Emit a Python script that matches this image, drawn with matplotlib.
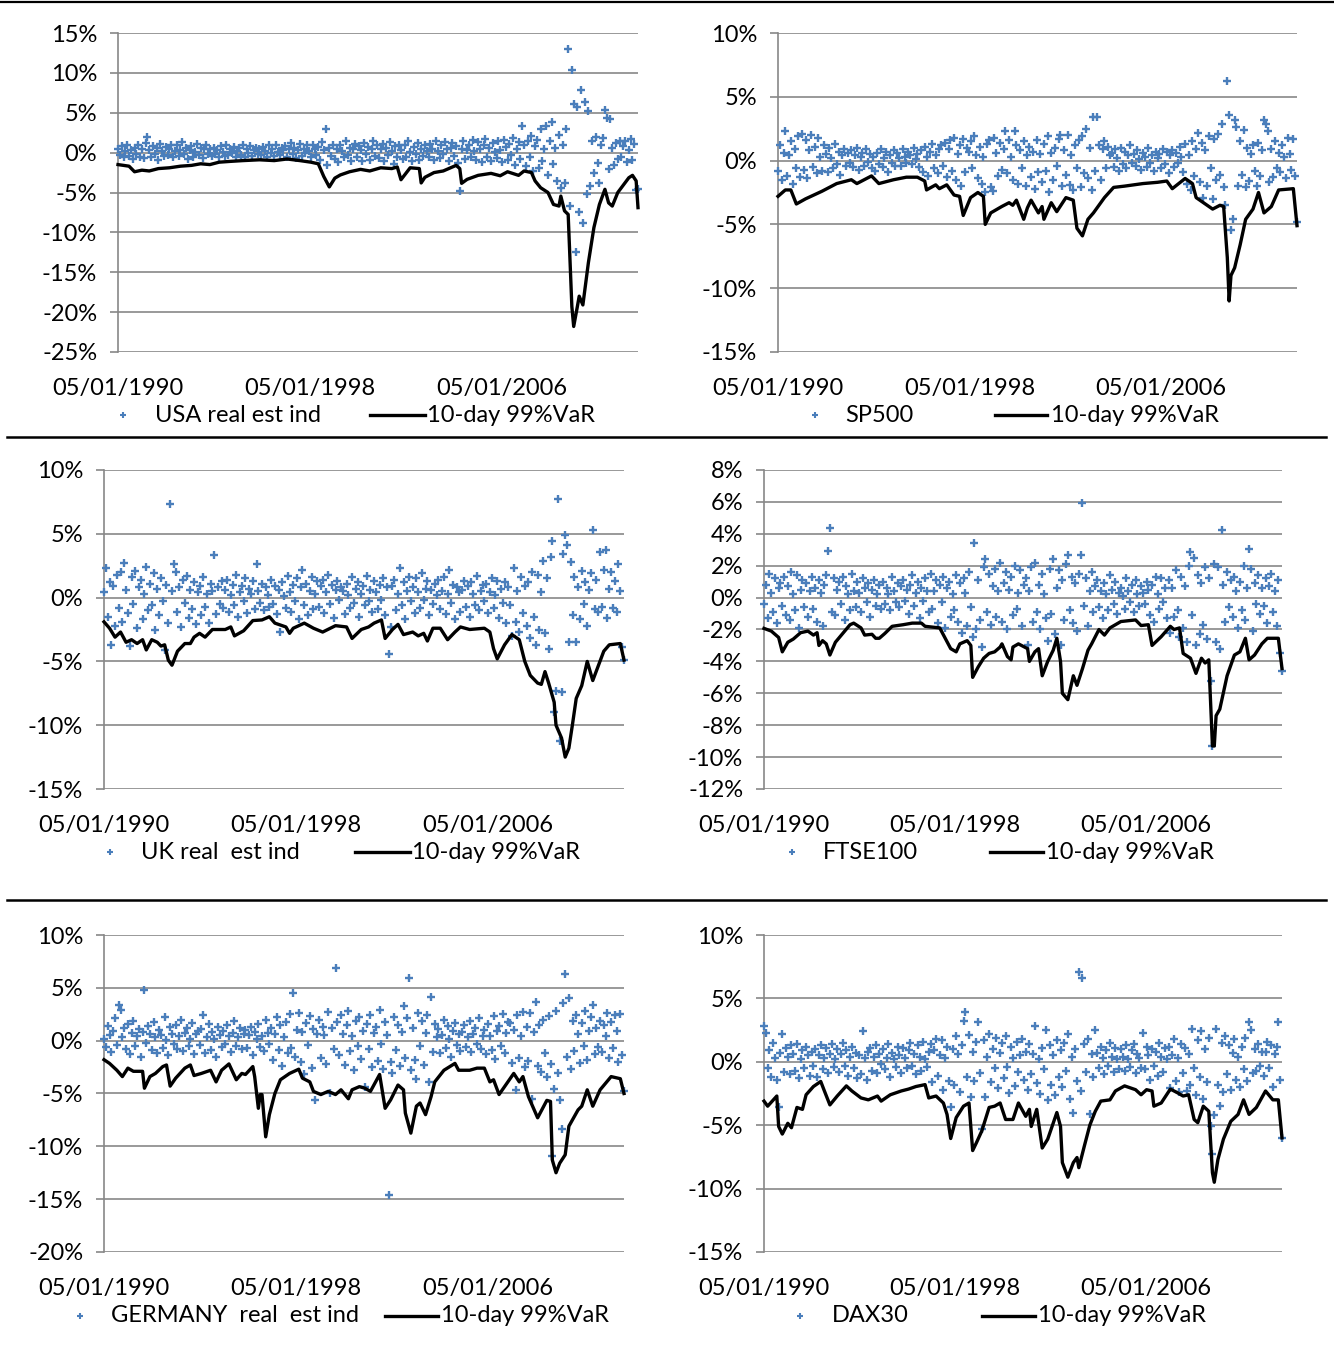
import numpy as np
import pandas as pd
import matplotlib
matplotlib.use('Agg')
from matplotlib import pyplot as plt
from matplotlib.ticker import FuncFormatter

plt.rcParams['font.family'] = ['Lato', 'DejaVu Sans']

# observation dates: one 10-day return every 4 weeks
dates = pd.date_range('1990-01-05', periods=284, freq='28D')
tick_dates = [pd.Timestamp('1990-01-05') + pd.Timedelta(days=2922 * k) for k in range(3)]
tick_labels = [d.strftime('%d/%m/%Y') for d in tick_dates]

var_label = '10-day 99%VaR'

# ---------------------------------------------------------------------------
# 10-day returns (%), one row per year
# ---------------------------------------------------------------------------
usa_ret = [
    0.5, -0.3, 0.8, -0.6, 0.2, 1.0, -0.4, 0.3, -0.8, 0.6, -0.2, 0.9, -0.5,
    0.4, -0.7, 1.2, 2.0, 0.3, -0.5, 0.8, -0.2, 0.6, -0.9, 1.1, 0.2, -0.4,
    0.7, -0.3, 0.5, 1.0, -0.6, 0.2, 0.9, -0.4, 0.3, 1.3, -0.2, 0.6, -0.8,
    0.3, 0.8, -0.5, 0.1, 1.1, -0.3, 0.6, -0.7, 0.4, 0.9, -0.2, 0.5, -0.4,
    0.6, -0.2, 0.3, -0.6, 0.8, 0.1, -0.4, 1.0, -0.3, 0.5, -0.1, 0.7, -0.5,
    0.2, 0.6, -0.3, 0.9, -0.5, 0.4, -0.1, 0.8, -0.4, 0.3, 0.6, -0.2, 0.5,
    -0.3, 0.7, 0.2, -0.6, 1.0, -0.1, 0.4, -0.4, 0.9, 0.1, -0.3, 0.6, 0.3,
    0.8, -0.5, 0.4, 1.2, -0.2, 0.6, -0.7, 0.3, 1.1, -0.4, 0.5, -0.1, 0.9,
    0.2, -0.6, 1.0, 0.4, -0.3, 0.7, -0.9, 1.3, 0.3, 2.9, -1.5, 0.6, -0.4,
    1.0, -0.8, 0.5, -1.2, 0.9, 0.2, -0.5, 1.4, -0.3, 0.6, -1.0, 0.4, 1.1,
    -0.6, 0.8, 0.3, -1.1, 1.2, -0.2, 0.7, -0.9, 0.5, 1.5, -0.4, 0.9, -0.7,
    0.4, 1.1, -1.0, 0.6, -0.3, 1.3, 0.2, -1.4, 0.8, -0.5, 1.0, 0.3, -0.8,
    0.9, -0.6, 1.4, 0.1, -1.1, 0.7, -0.2, 1.2, -0.9, 0.5, -0.4, 1.0, 0.2,
    -0.5, 1.1, 0.4, -0.9, 1.5, 0.2, -0.7, 0.9, -0.2, 1.3, 0.5, -1.0, 0.6,
    1.2, -0.4, 0.8, -1.3, -4.8, 0.5, 1.4, -0.8, 0.3, 1.0, -0.6, 1.6, 0.2,
    -0.9, 1.3, 0.4, -1.2, 0.9, 1.7, -0.5, 0.6, -1.1, 1.2, 0.1, -0.7, 1.5,
    0.3, -1.2, 1.6, 0.7, -0.9, 1.1, -0.3, 1.8, -1.5, 0.5, 1.3, -0.8, 3.3,
    0.9, -1.7, 1.4, -0.6, 2.1, -2.3, 0.8, 1.6, -1.9, 2.9, -1.1, 0.4, 3.4,
    -2.8, 1.5, 3.8, -1.4, 0.6, -3.6, 2.2, -4.4, 1.0, -3.8, 2.9, 13.0, -6.7,
    10.3, 6.1, -12.4, 5.7, -7.5, 7.8, -8.8, 6.3, -5.2, 5.2, -4.2, 1.5, -2.5,
    2.0, -1.3, -3.8, 0.9, 1.8, 5.4, 4.4, -2.0, 4.2, 0.6, -1.6, 1.2, -0.8,
    1.5, -0.5, 0.8, 1.4, -1.2, 0.3, 1.7, -0.9, 1.1, -4.7, -4.5,
]

sp500_ret = [
    -0.8, 1.2, -1.5, 0.6, 2.3, -1.2, 0.4, 1.5, -1.8, 0.9, -0.6, 1.9, -1.3,
    2.1, -0.7, 1.6, -1.4, 0.8, 2.0, -0.5, 1.1, -1.0, 1.8, 0.3, -0.8, 1.2,
    0.5, -0.9, 1.0, 0.2, -0.6, 1.3, -0.3, 0.7, -1.1, 0.4, 0.9, -0.4, 0.6,
    -0.2, 0.8, -0.5, 0.4, 1.0, -0.7, 0.3, 0.6, -0.4, 0.9, -0.1, 0.5, -0.6,
    0.3, -0.8, 0.6, -0.3, 0.9, -0.5, 0.2, 0.7, -0.9, 0.4, -0.2, 0.8, -0.4,
    0.6, 0.2, -0.4, 0.9, 0.3, -0.2, 0.7, 0.4, -0.3, 1.0, 0.1, 0.5, -0.5,
    0.8, -0.9, 1.1, 0.3, -1.2, 0.7, 1.3, -0.6, 0.4, -1.0, 0.9, 1.2, -0.4,
    1.4, -1.3, 0.9, 1.6, -0.8, 1.8, -1.5, 0.5, 1.2, -2.0, 1.7, -0.9, 1.0,
    0.7, 1.5, -0.6, 1.9, 0.4, -1.4, 1.1, -1.8, 0.3, -2.5, 1.3, 1.6, -2.1,
    -2.4, 1.8, 0.6, -1.2, 1.4, -0.7, 0.9, 2.3, -1.0, 1.6, 0.3, -1.5, 2.3,
    1.2, -1.8, 0.8, -0.6, 1.5, -2.0, 0.4, 1.1, -1.3, 0.7, -2.2, 1.6, -0.9,
    0.5, -1.7, 1.3, -0.8, 1.9, -2.5, 0.6, -1.5, 1.0, -0.4, 1.7, 2.0, -2.0,
    0.8, -1.1, 2.0, -1.9, 0.4, -2.3, 1.2, -0.6, 1.6, -2.1, 1.9, -1.0, 2.5,
    -1.4, 1.0, -2.3, 3.4, -0.8, 3.4, 1.2, -1.5, 0.9, 1.5, -0.6, 1.1, 0.4,
    0.6, -0.5, 0.9, 0.2, -0.8, 1.0, -0.3, 0.7, -0.6, 0.4, 1.2, -0.2, 0.5,
    -0.4, 0.8, 0.1, -0.7, 0.6, 0.3, -0.5, 1.0, -0.2, 0.4, -0.8, 0.7, 0.2,
    0.5, -0.6, 0.9, -0.3, 0.7, -1.0, 0.4, 0.8, -0.5, 0.6, -0.2, 1.1, 0.3,
    -0.9, 1.3, -1.8, 0.4, -2.3, 1.5, -1.2, 0.9, 2.2, -1.7, 1.4, -2.9, 0.8,
    -2.0, 1.9, -0.6, -3.0, 1.7, -1.5, 2.1, -1.1, 2.9, -2.1, -3.5, 6.2, 3.6,
    -5.4, -4.6, 3.2, 2.6, -2.0, 1.5, -1.1, 2.4, -2.1, 1.0, -1.6, 0.5, 1.2,
    -0.8, -2.0, 1.4, -1.2, 0.8, 3.2, 2.9, 2.3, -1.7, 0.9, -1.3, 1.5, -0.6,
    0.6, -0.9, 1.2, 0.3, -1.4, 1.8, 0.5, -0.7, 1.7, -1.2, -4.8,
]

uk_ret = [
    0.4, 2.3, -1.5, 1.2, -3.7, 0.9, -2.2, 1.8, -0.8, 2.0, -1.9, 2.7, 0.6,
    -1.2, -3.8, 1.6, -0.5, 2.1, -2.4, 0.8, 1.4, -1.7, 0.3, 2.4, -1.0, 1.1,
    -0.6, 1.9, -2.5, 0.7, -1.4, 1.5, -0.3, -4.1, 1.0, -2.0, 7.3, 0.5, 2.6,
    2.0, -1.1, 0.8, -2.3, 1.4, -0.4, 1.7, -1.6, 0.6, -0.9, 1.2, -2.1, 0.4,
    0.9, -1.4, 1.6, -0.7, 0.3, -2.0, 1.1, 0.5, 3.35, -1.3, 0.8, -0.5, 1.3,
    -0.8, 0.6, 1.4, -1.1, 0.2, 1.0, -0.6, 1.8, -1.5, 0.4, 0.9, -0.3, 1.5,
    -1.2, 0.7, 0.3, 1.3, -0.9, 2.6, 0.5, -0.4, 1.1, -1.0, 0.8, 0.2, -0.7,
    1.4, -0.5, 0.9, -1.3, 0.6, -2.7, 1.2, 0.1, -0.8, 1.7, 0.4, -1.1, 1.0,
    -0.3, 1.5, -1.7, 0.8, 2.2, -0.6, 1.1, -1.4, 0.5, 1.6, -0.9, 0.3, 1.3,
    -0.7, 0.9, 1.4, -1.2, 0.4, 1.8, -0.5, 1.0, -1.6, 0.6, 1.3, -0.2, 0.8,
    0.5, -1.3, 1.1, 0.2, -0.8, 1.6, -0.4, 0.7, 1.2, -1.5, 0.3, 0.9, -0.6,
    1.7, -0.3, 0.6, -1.1, 1.3, 0.4, -0.9, 1.0, -0.2, 1.5, -1.4, 0.8, -4.4,
    -2.3, 0.9, 1.4, -1.0, 0.3, 2.3, -0.6, 1.2, -1.7, 0.5, 1.6, -0.3, 0.8,
    -1.2, 1.5, 0.4, -0.8, 1.9, -0.2, 0.7, 1.3, -1.4, 0.6, -0.5, 1.1, 0.2,
    1.4, -0.9, 0.5, 1.6, -1.3, 0.3, 2.2, -0.4, 1.0, -1.7, 0.8, 0.4, -1.1,
    0.6, 1.3, -0.7, 0.9, -1.5, 1.2, 0.3, -0.6, 1.7, -1.0, 0.5, 1.0, -0.3,
    1.1, -1.2, 0.4, 1.5, -0.8, 0.2, 1.3, -1.6, 0.7, -0.4, 1.2, -2.0, 0.8,
    -0.6, -3.0, 2.35, -1.9, 0.5, -2.7, 1.6, -1.2, 0.9, -2.2, 1.2, -3.2, 2.0,
    -1.5, -3.7, 1.8, -2.5, 0.4, 2.9, -2.8, 1.5, -4.0, 3.2, 4.4, -9.0, -7.3,
    7.7, -11.2, -7.4, 3.4, 4.9, 4.1, -3.5, 2.8, -1.4, 1.6, -3.5, 0.8, -1.7,
    2.1, -0.5, 1.2, -2.2, 0.6, 1.9, 5.3, -0.9, 1.4, -1.1, 3.6, -0.7, 2.2,
    3.75, -1.6, 0.7, 2.0, -0.8, 1.3, -1.1, 2.6, 0.5, -3.85, -4.9,
]

ftse_ret = [
    -0.4, 0.8, -1.3, 1.5, 0.3, -0.9, 1.2, -1.6, 0.6, 0.9, -0.5, 1.3, -1.1,
    0.7, -1.4, 1.6, 0.2, -0.8, 1.4, -1.9, 0.5, 1.1, -0.6, 0.9, -1.2, 0.4,
    1.3, -0.7, 0.6, -1.5, 1.1, 0.3, -1.8, 0.8, 1.4, 2.95, 4.35, -0.9, 1.2,
    -1.1, 0.5, 1.0, -0.4, 1.3, -1.4, 0.7, 0.2, -0.8, 1.5, 0.4, -0.6, 1.0,
    0.3, -0.9, 1.2, 0.6, -0.3, 0.9, -1.2, 0.5, 1.1, -0.5, 0.2, 0.8, -0.7,
    1.0, -0.4, 0.6, 0.2, -0.8, 1.3, 0.4, -0.3, 0.9, -0.6, 0.7, 1.1, -0.2,
    0.5, -1.0, 0.8, 1.4, -0.5, 0.3, 1.0, -1.3, 0.6, -0.2, 1.2, 0.4, -0.9,
    1.5, -0.7, 0.4, 1.1, -1.6, 0.8, -0.3, 1.3, -1.9, 0.6, 1.0, -1.2, 0.2,
    -0.8, 1.4, -1.5, 0.9, -2.2, 1.2, 0.3, -1.8, 1.6, -0.6, -2.5, 3.4, -2.0,
    1.1, -1.4, -3.1, 1.9, 2.45, -0.9, 1.5, -1.7, 0.7, 1.8, -1.2, 0.4, 2.2,
    -1.5, 0.9, 1.6, -2.0, 0.5, 1.3, -1.1, 2.0, -0.7, 0.3, 1.7, -1.8, 0.8,
    1.2, -3.0, 0.4, 1.9, -1.5, 2.2, -0.9, 0.8, -2.0, 1.5, 0.2, -1.3, -2.7,
    1.8, -1.0, 2.4, -2.3, 0.6, 1.7, -3.0, 1.1, -1.4, 2.1, 2.7, -0.8, 1.3,
    -1.6, 0.9, -2.1, 1.5, 2.7, 5.9, -0.5, 1.2, -1.8, 0.4, 1.6, -0.9, 0.7,
    1.1, -0.6, 0.4, -1.3, 0.9, 0.2, -0.8, 1.4, 0.5, -0.4, 1.0, -1.0, 0.3,
    0.6, 0.1, -0.7, 1.2, 0.4, -0.3, 0.8, -0.9, 1.1, 0.2, -0.5, 0.7, 0.3,
    -0.4, 1.0, 0.5, -1.1, 0.8, -1.5, 1.3, 0.2, -0.7, 1.2, -0.3, 0.6, -1.3,
    1.1, -2.2, 0.6, -1.2, 1.7, -0.8, -2.5, 1.3, -1.9, 0.7, -2.8, 2.0, 2.85,
    -1.1, 2.5, -3.0, 1.4, -2.3, 0.9, -1.7, 1.9, -2.6, 1.2, -5.2, -9.3, 2.1,
    -2.8, 1.9, -3.2, 4.25, 0.8, -1.5, 1.6, -0.6, 1.1, -1.2, 1.3, 0.4, -1.9,
    1.0, -0.8, 2.0, -1.4, 0.6, 3.05, 1.8, -2.1, 0.9, -0.4, 1.4, -1.0, 0.6,
    -0.5, 1.2, -1.6, 0.7, 1.5, -0.9, 0.4, -1.8, 1.1, -3.5, -4.6,
]

germany_ret = [
    0.2, -0.6, 1.4, 0.5, -1.1, 0.9, 2.1, -0.4, 3.4, 2.9, 0.3, 1.2, -0.8,
    1.6, -1.3, 0.7, 1.9, -0.5, 0.4, 1.1, -1.5, 0.8, 4.8, -0.2, 1.4, 0.6,
    -0.9, 1.8, 0.3, -1.2, 1.0, 0.5, -0.7, 2.2, 0.1, -1.4, 1.3, 0.6, -0.3,
    1.5, -0.8, 0.4, 2.0, -1.0, 0.7, 1.2, -0.5, 0.2, 1.7, -1.3, 0.6, 0.9,
    -0.4, 1.1, 2.4, -1.2, 0.3, 1.6, -0.9, 0.8, 0.2, -1.5, 1.3, 0.5, -0.6,
    0.9, -0.3, 1.5, 0.4, -1.1, 0.7, 1.9, -0.5, 0.3, 1.2, -0.8, 0.6, 1.0,
    -0.7, 0.5, 1.3, -1.4, 0.8, 0.2, 1.6, -0.6, 0.4, -1.0, 2.0, 0.7, -0.3,
    1.2, -1.8, 0.6, 2.2, -0.9, 1.5, -2.4, 0.3, 1.8, -1.2, 2.5, -0.7, 4.5,
    -1.5, 1.0, 2.6, -2.0, 0.8, -3.2, 1.7, -0.4, 2.3, -2.6, 1.1, -5.6, 0.6,
    2.0, -1.6, 1.3, 0.5, -2.2, 2.7, -5.0, 1.2, -0.8, 6.9, 1.8, -1.4, 2.4,
    0.6, -2.3, 1.5, 2.8, -1.0, 0.4, -2.8, 1.9, -0.5, 2.2, -1.7, 0.9, -4.4,
    1.6, -0.8, 2.4, -2.5, 0.7, 1.3, -1.9, 2.9, -0.3, -2.7, 1.8, 0.5, -14.6,
    -2.0, -3.1, 2.2, -0.9, 1.5, -2.4, 0.8, 3.3, -1.6, 2.1, 5.9, -2.8, 1.2,
    -1.8, -3.6, 2.6, -0.5, 1.9, -2.3, 0.7, 2.4, -3.9, 4.1, -1.1, 1.6, 0.3,
    1.1, -1.2, 0.5, 2.0, -0.7, 1.4, 0.2, -1.5, 0.9, 1.7, -0.4, 0.6, -1.0,
    0.8, 1.5, -0.6, 0.3, 1.9, -1.1, 0.6, 1.2, -0.3, 2.1, -0.8, 0.4, 1.0,
    -1.3, 1.6, 0.4, -0.9, 2.3, -1.7, 0.9, 1.4, -0.5, 2.5, -1.2, 0.7, 1.8,
    1.7, -2.1, 1.0, -4.65, 2.4, -1.6, 0.4, 2.7, -2.5, 1.3, -1.9, 2.6, -5.5,
    0.8, 3.7, -2.4, 1.5, -3.0, 2.0, -1.2, -3.4, 2.3, -2.2, -10.9, -4.6, 2.8,
    -3.1, -5.6, -8.4, 3.6, 6.3, -1.5, 4.0, -2.7, 1.9, -1.0, 2.4, 0.6, -2.1,
    1.7, -0.5, 2.8, -1.8, 0.9, 2.2, 3.4, -1.3, 1.2, -0.6, 1.9, -1.1, 1.5,
    0.4, 2.6, -1.6, 1.8, -0.7, 2.4, 0.9, -2.0, 2.5, -1.4, -4.8,
]

dax_ret = [
    2.8, 2.3, -0.5, 0.9, -1.2, 1.5, 0.3, -1.4, -3.6, 0.7, 2.2, -0.8, 1.1,
    0.4, -1.0, 1.3, 0.6, -0.7, 1.4, -1.3, 0.2, 0.9, -0.5, 1.2, 0.5, -1.1,
    0.8, -0.3, 1.0, -1.2, 0.5, 1.3, -0.6, 0.3, 1.1, -0.9, 0.6, 1.4, -0.4,
    0.2, 1.0, -0.8, 0.6, 1.5, -0.3, 0.9, -1.1, 0.4, 1.2, -0.5, 0.7, -1.3,
    0.5, -1.0, 2.4, 0.3, -1.4, 0.8, 1.1, -0.7, 0.4, 1.3, -0.9, 0.6, -0.2,
    1.0, -0.6, 0.3, 1.4, -1.2, 0.7, 0.2, -0.4, 1.2, 0.5, -0.9, 1.1, 0.3,
    -0.5, 0.9, 1.5, -0.3, 0.6, -1.0, 1.3, 0.4, -0.7, 1.6, 0.2, -0.4, 0.8,
    1.4, -1.6, 0.9, 1.8, -1.1, 0.5, 1.7, -2.2, 0.3, 1.2, -1.5, -3.6, 1.0,
    -1.8, 2.0, 0.6, -2.4, 1.3, 3.25, 3.95, -1.2, 2.1, -2.8, 0.8, -1.5, 1.6,
    3.1, -0.9, -5.3, 1.7, -2.8, 0.4, 2.2, -1.6, 1.0, -0.5, 1.9, -2.1, 0.7,
    1.5, -1.3, 2.0, -0.4, -2.45, 1.2, 0.3, -1.9, 1.6, -0.8, 0.5, 1.8, -1.4,
    0.8, -2.2, 1.4, -1.0, 0.6, 2.85, -1.7, 0.2, -2.5, 1.1, -0.6, 2.5, -3.0,
    1.3, -1.8, 0.5, -2.6, 1.7, -1.2, 0.9, -2.0, 1.5, -0.7, 2.2, -2.9, 0.4,
    -4.0, 1.0, -1.5, 7.1, -2.3, 6.6, 1.4, -0.8, 1.8, -4.1, 0.6, -1.2, 2.5,
    0.7, -0.5, 1.2, 0.3, -1.0, 0.9, -0.3, 1.5, 0.4, -0.8, 1.1, 0.2, -0.6,
    1.0, 0.4, -0.7, 1.3, 0.2, -0.4, 0.9, 1.4, -0.9, 0.6, 0.3, -0.5, 2.3,
    -0.6, 1.2, 0.5, -1.4, 1.0, -0.3, 0.8, -1.1, 1.5, 0.4, -0.8, 1.1, 0.2,
    1.2, -2.1, 0.5, 1.8, -1.5, 0.3, -2.4, 1.4, -0.9, 1.1, -2.3, 0.6, -1.8,
    2.6, -0.5, -2.6, 1.7, -1.2, 2.4, -2.9, 1.0, -1.6, 1.9, -5.1, -7.3, -4.2,
    2.6, -1.8, -3.5, 1.5, -2.4, 2.0, -1.0, 1.3, -2.2, 0.7, 1.8, -1.4, 0.4,
    -2.0, 1.2, -0.6, 1.9, -1.5, 3.1, 2.5, -0.9, 1.0, -0.7, 1.4, -0.3, 0.8,
    -1.1, 0.8, 1.6, -0.5, 1.3, -2.0, 0.6, 1.2, 3.1, -1.4, -6.0,
]

# ---------------------------------------------------------------------------
# 10-day 99% VaR (%), as (observation number, value)
# ---------------------------------------------------------------------------
usa_var = [
    (0, -1.5), (6, -1.7), (9, -2.4), (13, -2.2), (17, -2.3), (22, -2.0), (28, -1.9),
    (34, -1.7), (40, -1.6), (45, -1.4), (50, -1.5), (55, -1.2), (61, -1.1), (68, -1.0),
    (77, -0.9), (85, -1.0), (92, -0.8), (99, -1.0), (105, -1.2), (109, -1.4), (112, -3.0),
    (115, -4.3), (118, -3.2), (121, -2.8), (126, -2.4), (132, -2.1), (137, -2.3), (143, -1.9),
    (149, -2.0), (152, -1.8), (154, -3.4), (159, -1.9), (164, -2.0), (165, -3.8), (167, -3.1),
    (172, -2.5), (177, -2.3), (184, -1.6), (186, -2.0), (187, -3.85), (190, -3.35), (196, -2.85),
    (203, -2.6), (208, -2.9), (212, -2.4), (218, -2.85), (221, -2.3), (225, -2.5), (227, -3.55),
    (230, -4.4), (234, -5.0), (237, -6.5), (240, -6.7), (241, -5.45), (243, -7.3), (245, -7.75),
    (247, -19.3), (248, -21.8), (250, -19.3), (251, -18.0), (253, -19.1), (256, -13.8),
    (259, -9.4), (262, -6.5), (265, -4.6), (267, -6.3), (269, -6.7), (272, -5.0), (278, -3.15),
    (280, -2.85), (282, -3.55), (283, -6.9),
]

sp500_var = [
    (0, -2.8), (4, -2.3), (7, -2.3), (10, -3.4), (15, -3.0), (24, -2.4), (32, -1.8),
    (40, -1.5), (43, -1.8), (51, -1.2), (55, -1.8), (63, -1.5), (70, -1.3), (76, -1.3),
    (80, -1.6), (81, -2.3), (86, -1.9), (88, -2.2), (92, -1.9), (96, -2.7), (99, -2.8),
    (101, -4.3), (105, -2.9), (109, -2.5), (112, -2.8), (113, -5.0), (116, -4.1), (122, -3.6),
    (126, -3.3), (128, -3.5), (130, -3.1), (134, -4.6), (136, -3.7), (138, -3.1), (142, -4.1),
    (144, -3.6), (145, -4.6), (149, -3.3), (152, -4.0), (157, -2.9), (161, -3.1), (163, -5.3),
    (166, -5.9), (169, -4.6), (172, -4.1), (178, -2.9), (183, -2.1), (189, -2.0), (199, -1.8),
    (207, -1.7), (212, -1.6), (215, -2.2), (222, -1.4), (226, -1.8), (228, -2.9), (237, -3.8),
    (241, -3.5), (243, -3.6), (245, -7.6), (246, -11.0), (247, -9.0), (249, -8.4), (252, -6.6),
    (255, -4.6), (259, -3.8), (262, -2.5), (265, -4.1), (269, -3.6), (273, -2.3), (281, -2.2),
    (283, -5.1),
]

uk_var = [
    (0, -1.9), (3, -2.4), (6, -3.1), (9, -2.7), (12, -3.5), (15, -3.3), (18, -3.6),
    (21, -3.3), (23, -4.1), (26, -3.3), (29, -3.5), (31, -3.8), (33, -3.7), (35, -4.9),
    (37, -5.3), (40, -4.2), (44, -3.6), (47, -3.6), (49, -3.1), (52, -2.8), (55, -3.1),
    (59, -2.5), (66, -2.5), (69, -2.3), (71, -3.0), (76, -2.6), (81, -1.8), (86, -1.75),
    (90, -1.5), (93, -2.0), (99, -2.3), (101, -2.8), (103, -2.4), (109, -2.0), (114, -2.4),
    (119, -2.7), (126, -2.2), (132, -2.3), (135, -3.2), (140, -2.5), (144, -2.3), (147, -2.0),
    (151, -1.75), (153, -3.2), (157, -2.5), (160, -2.1), (163, -2.9), (168, -2.7), (171, -3.0),
    (174, -2.8), (176, -3.4), (179, -2.4), (183, -2.4), (187, -3.3), (191, -2.7), (194, -2.3),
    (199, -2.5), (207, -2.4), (210, -2.7), (212, -4.0), (214, -4.8), (218, -3.7), (222, -2.9),
    (226, -3.3), (229, -5.0), (232, -6.1), (236, -6.7), (238, -6.8), (240, -5.8), (242, -6.7),
    (245, -8.2), (246, -10.0), (249, -11.0), (251, -12.5), (253, -11.8), (255, -9.9),
    (257, -7.9), (260, -6.9), (263, -5.0), (266, -6.5), (272, -4.2), (275, -3.7), (281, -3.6),
    (283, -4.9),
]

ftse_var = [
    (0, -1.93), (4, -2.1), (8, -2.5), (10, -3.4), (13, -2.8), (16, -2.6), (20, -2.2),
    (24, -2.1), (27, -2.35), (29, -2.2), (30, -3.0), (32, -2.7), (34, -2.9), (36, -3.6),
    (39, -2.8), (43, -2.25), (47, -1.7), (49, -1.6), (53, -1.9), (55, -2.35), (59, -2.3),
    (61, -2.55), (63, -2.55), (66, -2.25), (70, -1.8), (76, -1.7), (81, -1.6), (86, -1.6),
    (88, -1.8), (96, -1.9), (99, -2.55), (102, -3.2), (105, -3.4), (107, -2.9), (111, -2.7),
    (113, -3.0), (114, -5.0), (117, -4.35), (120, -3.8), (123, -3.5), (126, -3.4), (129, -3.1),
    (130, -2.9), (133, -3.7), (135, -3.9), (136, -3.1), (139, -2.9), (144, -3.2), (145, -4.0),
    (148, -3.4), (150, -3.2), (152, -4.9), (155, -4.0), (158, -3.3), (160, -2.55), (162, -4.0),
    (163, -6.0), (166, -6.4), (169, -4.9), (171, -5.5), (174, -4.45), (177, -3.3), (179, -2.9),
    (183, -2.0), (186, -2.35), (189, -1.9), (195, -1.5), (203, -1.4), (206, -1.75), (210, -1.7),
    (212, -3.0), (217, -2.45), (222, -1.8), (224, -2.0), (227, -1.9), (229, -3.5), (233, -3.8),
    (236, -4.75), (239, -3.8), (241, -4.1), (243, -3.9), (245, -9.3), (246, -9.3), (247, -7.4),
    (249, -7.0), (253, -4.9), (257, -3.6), (260, -3.4), (263, -2.55), (265, -3.9), (268, -3.6),
    (272, -2.9), (275, -2.55), (281, -2.55), (283, -4.45),
]

germany_var = [
    (0, -1.8), (3, -2.15), (7, -2.8), (10, -3.4), (13, -2.6), (16, -2.9), (21, -2.9),
    (22, -4.5), (25, -3.4), (28, -3.1), (32, -2.45), (34, -2.3), (36, -4.3), (39, -3.55),
    (44, -2.6), (47, -2.3), (49, -3.3), (53, -3.1), (58, -2.8), (61, -3.9), (64, -2.8),
    (68, -2.2), (72, -3.7), (75, -3.1), (77, -3.2), (81, -2.45), (82, -3.4), (84, -6.4),
    (85, -5.1), (86, -5.1), (88, -9.1), (90, -7.0), (93, -5.0), (96, -3.7), (101, -3.1),
    (106, -2.7), (108, -3.55), (112, -3.9), (114, -4.8), (118, -5.1), (122, -4.8), (126, -5.1),
    (129, -4.65), (133, -5.5), (135, -4.65), (139, -4.35), (142, -4.5), (145, -4.8), (150, -3.2),
    (153, -6.4), (156, -5.6), (160, -4.2), (163, -4.65), (164, -6.85), (167, -8.75), (170, -6.2),
    (172, -5.9), (175, -7.0), (178, -5.3), (180, -3.9), (185, -2.8), (191, -2.15), (193, -2.8),
    (199, -2.8), (203, -2.6), (207, -2.6), (210, -3.9), (212, -3.7), (215, -5.1), (218, -4.35),
    (223, -3.1), (226, -3.9), (228, -3.4), (231, -5.3), (236, -7.3), (241, -5.65), (243, -5.75),
    (244, -11.3), (246, -12.5), (248, -11.6), (251, -10.8), (253, -8.1), (258, -6.55),
    (260, -6.2), (263, -4.65), (266, -6.2), (270, -4.65), (276, -3.4), (281, -3.6), (283, -5.0),
]

dax_var = [
    (0, -3.1), (2, -3.5), (7, -2.7), (8, -5.1), (10, -5.7), (13, -4.85), (15, -5.2),
    (18, -3.6), (21, -3.75), (23, -2.6), (27, -1.95), (31, -1.55), (33, -2.3), (36, -3.4),
    (40, -2.7), (45, -1.9), (48, -2.3), (53, -2.85), (57, -3.0), (62, -2.7), (64, -3.1),
    (69, -2.6), (75, -2.3), (79, -2.15), (83, -1.95), (88, -1.8), (90, -2.85), (94, -2.7),
    (98, -3.25), (100, -4.15), (102, -6.05), (105, -4.4), (109, -3.5), (112, -3.25), (114, -7.0),
    (116, -6.4), (119, -5.45), (123, -3.6), (126, -3.5), (129, -3.25), (132, -4.55), (136, -4.55),
    (139, -3.25), (143, -4.3), (145, -3.75), (146, -5.1), (149, -3.75), (152, -6.8), (155, -6.1),
    (160, -4.0), (162, -5.1), (163, -7.95), (166, -9.1), (169, -7.95), (171, -7.55), (172, -8.35),
    (175, -6.65), (178, -5.0), (181, -3.9), (184, -3.1), (189, -3.0), (192, -2.3), (197, -1.9),
    (203, -2.2), (206, -2.6), (209, -2.2), (212, -2.3), (213, -3.5), (217, -3.25), (222, -2.15),
    (226, -2.45), (229, -2.7), (232, -2.6), (235, -4.55), (237, -4.8), (240, -3.5), (243, -3.9),
    (245, -8.75), (246, -9.5), (248, -7.7), (251, -6.1), (255, -4.7), (259, -4.15), (262, -3.0),
    (265, -4.15), (269, -3.6), (274, -2.3), (278, -3.0), (281, -3.0), (283, -6.0),
]

# ---------------------------------------------------------------------------
# Layout (pixels on a 1334 x 1361 canvas)
# ---------------------------------------------------------------------------
W, H = 1334, 1361
BLUE = '#4a7ebb'
GRID = '#878787'
FS = 17

fig = plt.figure(figsize=(W / 100, H / 100), dpi=100)

# full-canvas overlay for legends and separator rules
ov = fig.add_axes([0, 0, 1, 1])
ov.set_xlim(0, W)
ov.set_ylim(H, 0)
ov.axis('off')
ov.set_zorder(-1)

def pct(v, pos):
    return '{:.0f}%'.format(v)

def draw_panel(box, ret, var, yticks, label, leg):
    l, t, r, b = box
    ax = fig.add_axes([l / W, 1 - b / H, (r - l) / W, (b - t) / H])

    ax.scatter(dates, ret, marker='+', s=30, linewidths=1.7, color=BLUE,
               zorder=3, clip_on=False)
    idx, val = zip(*var)
    ax.plot(dates[list(idx)], val, color='black', lw=2.4, zorder=4,
            solid_joinstyle='round', clip_on=False)

    ax.set_xlim(dates[0], dates[-1])
    ax.set_ylim(yticks[0], yticks[-1])
    ax.set_yticks(yticks)
    ax.yaxis.set_major_formatter(FuncFormatter(pct))
    ax.set_xticks(tick_dates)
    ax.set_xticklabels(tick_labels)

    ax.grid(axis='y', color=GRID, lw=1.2)
    ax.set_axisbelow(True)
    for s in ['top', 'right', 'bottom']:
        ax.spines[s].set_visible(False)
    ax.spines['left'].set_color(GRID)
    ax.spines['left'].set_linewidth(1.2)
    ax.tick_params(axis='y', length=6, width=1.2, color=GRID, pad=9, labelsize=FS)
    ax.tick_params(axis='x', length=0, pad=18.5, labelsize=FS)

    # legend: marker, series name, black line, VaR label
    mx, tx, l0, l1, tx2, y = leg
    ov.plot([mx], [y], marker='+', ms=5, mew=1.5, color=BLUE)
    ov.text(tx, y, label, ha='left', va='center', fontsize=FS)
    ov.plot([l0, l1], [y, y], color='black', lw=2.4)
    ov.text(tx2, y, var_label, ha='left', va='center', fontsize=FS)
    return ax

draw_panel((118, 33, 638, 352), usa_ret, usa_var, np.arange(-25, 16, 5),
           'USA real est ind', (123, 155, 370, 425, 427, 415))
draw_panel((778, 33, 1297, 352), sp500_ret, sp500_var, np.arange(-15, 11, 5),
           'SP500', (815, 845, 995, 1047, 1051, 415))
draw_panel((104, 470, 624, 789), uk_ret, uk_var, np.arange(-15, 11, 5),
           'UK real  est ind', (110, 141, 355, 410, 412, 852))
draw_panel((764, 470, 1282, 789), ftse_ret, ftse_var, np.arange(-12, 9, 2),
           'FTSE100', (792, 823, 990, 1043, 1046, 852))
draw_panel((104, 935, 624, 1252), germany_ret, germany_var, np.arange(-20, 11, 5),
           'GERMANY  real  est ind', (80, 111, 385, 438, 441, 1316))
draw_panel((764, 935, 1282, 1252), dax_ret, dax_var, np.arange(-15, 11, 5),
           'DAX30', (800, 832, 982, 1035, 1038, 1316))

# horizontal rules between the rows of charts
ov.plot([0, W], [1.5, 1.5], color='black', lw=1.6)
for y in [437, 900]:
    ov.plot([7, 1326], [y, y], color='black', lw=1.8)

plt.savefig('out.png', dpi=100)
